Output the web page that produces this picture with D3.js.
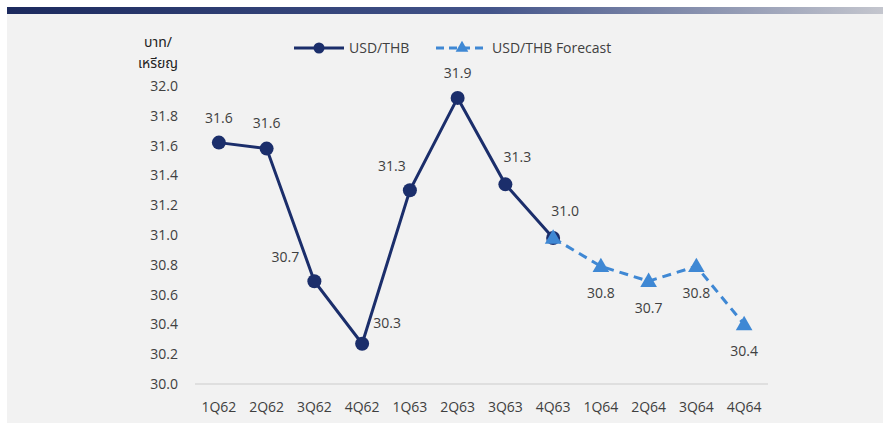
<!DOCTYPE html>
<html><head><meta charset="utf-8">
<script src="https://cdn.jsdelivr.net/npm/d3@7"></script>
<style>
body{margin:0;background:#fff;}
svg{display:block;font-family:"Open Sans","Liberation Sans",sans-serif;}
</style></head>
<body>
<svg id="c" width="883" height="423"></svg>
<script>
const categories = ["1Q62","2Q62","3Q62","4Q62","1Q63","2Q63","3Q63","4Q63","1Q64","2Q64","3Q64","4Q64"];
const actualValues = [31.62, 31.58, 30.69, 30.27, 31.30, 31.92, 31.34, 30.98, null, null, null, null];
const forecastValues = [null, null, null, null, null, null, null, 30.98, 30.79, 30.69, 30.79, 30.40];
const actualLabels = ["31.6","31.6","30.7","30.3","31.3","31.9","31.3","31.0"];
const actualLabelPos = ["above","above","left","right","aboveleft","above","aboveright","aboveright"];
const forecastLabels = [null,null,null,null,null,null,null,null,"30.8","30.7","30.8","30.4"];
const yTicks = [30.0,30.2,30.4,30.6,30.8,31.0,31.2,31.4,31.6,31.8,32.0];
const seriesNames = ["USD/THB","USD/THB Forecast"];
const yTitle = ["บาท/","เหรียญ"];

const svg = d3.select("#c");
const W = 883, H = 423;
const navy = "#1b2e6b", blue = "#3f88d4", txt = "#404040";

// background
svg.append("rect").attr("x",7).attr("y",7).attr("width",W-7).attr("height",H-7).attr("fill","#f2f2f2");
const grad = svg.append("defs").append("linearGradient").attr("id","g").attr("x1","0").attr("x2","1");
grad.append("stop").attr("offset","0").attr("stop-color","#1c2a5e");
grad.append("stop").attr("offset","0.55").attr("stop-color","#43548a");
grad.append("stop").attr("offset","1").attr("stop-color","#c4c6ce");
svg.append("rect").attr("x",7).attr("y",7).attr("width",W-7).attr("height",7).attr("fill","url(#g)");

const x = d3.scaleBand().domain(categories).range([195,768]);
const y = d3.scaleLinear().domain([30,32]).range([384,86]);
const cx = d => x(d) + x.bandwidth()/2;

// baseline
svg.append("line").attr("x1",195).attr("x2",768).attr("y1",y(30)).attr("y2",y(30))
  .attr("stroke","#d9d9d9").attr("stroke-width",1.5);

// y tick labels
svg.append("g").selectAll("text").data(yTicks).join("text")
  .attr("x",178).attr("y",d=>y(d)).attr("dy","0.35em").attr("text-anchor","end")
  .attr("font-size",14).attr("fill",txt).text(d=>d.toFixed(1));

// x labels
svg.append("g").selectAll("text").data(categories).join("text")
  .attr("x",d=>cx(d)).attr("y",407).attr("dy","0.35em").attr("text-anchor","middle")
  .attr("font-size",14).attr("fill",txt).text(d=>d);

// y title
svg.append("g").selectAll("text").data(yTitle).join("text")
  .attr("x",158).attr("y",(d,i)=>42+i*21).attr("dy","0.35em").attr("text-anchor","middle")
  .attr("font-size",14).attr("font-family","'Noto Sans Thai','Noto Sans','DejaVu Sans',sans-serif")
  .attr("fill","#222").text(d=>d);

const line = d3.line().defined(d=>d.v!=null).x(d=>cx(d.c)).y(d=>y(d.v));
const fData = categories.map((c,i)=>({c,v:forecastValues[i]}));
const aData = categories.map((c,i)=>({c,v:actualValues[i]}));

svg.append("path").datum(fData).attr("d",line).attr("fill","none").attr("stroke",blue)
  .attr("stroke-width",3).attr("stroke-dasharray","9,6");
svg.append("path").datum(aData).attr("d",line).attr("fill","none").attr("stroke",navy)
  .attr("stroke-width",3);

svg.append("g").selectAll("circle").data(aData.filter(d=>d.v!=null)).join("circle")
  .attr("cx",d=>cx(d.c)).attr("cy",d=>y(d.v)).attr("r",7).attr("fill",navy);

const tri = d3.symbol().type(d3.symbolTriangle).size(120);
svg.append("g").selectAll("path").data(fData.filter(d=>d.v!=null)).join("path")
  .attr("d",tri).attr("transform",d=>`translate(${cx(d.c)},${y(d.v)+1})`).attr("fill",blue);

// labels
const off = {above:[0,-25], left:[-29,-24], aboveleft:[-18,-24], aboveright:[12,-27], right:[25,-21], below:[0,27]};
svg.append("g").selectAll("text").data(actualLabels).join("text")
  .attr("x",(d,i)=>cx(categories[i])+off[actualLabelPos[i]][0])
  .attr("y",(d,i)=>y(actualValues[i])+off[actualLabelPos[i]][1])
  .attr("dy","0.35em").attr("text-anchor","middle").attr("font-size",14).attr("fill",txt).text(d=>d);
svg.append("g").selectAll("text").data(fData.map((d,i)=>({d,l:forecastLabels[i]})).filter(o=>o.l)).join("text")
  .attr("x",o=>cx(o.d.c)).attr("y",o=>y(o.d.v)+off.below[1])
  .attr("dy","0.35em").attr("text-anchor","middle").attr("font-size",14).attr("fill",txt).text(o=>o.l);

// legend
const lg = svg.append("g");
lg.append("line").attr("x1",294).attr("x2",344).attr("y1",48).attr("y2",48).attr("stroke",navy).attr("stroke-width",3);
lg.append("circle").attr("cx",319).attr("cy",48).attr("r",5.5).attr("fill",navy);
lg.append("text").attr("x",349).attr("y",48).attr("dy","0.35em").attr("font-size",14).attr("fill",txt).text(seriesNames[0]);
lg.append("line").attr("x1",436).attr("x2",488).attr("y1",48).attr("y2",48).attr("stroke",blue).attr("stroke-width",3).attr("stroke-dasharray","8,5");
lg.append("path").attr("d",d3.symbol().type(d3.symbolTriangle).size(70)).attr("transform","translate(462,48)").attr("fill",blue);
lg.append("text").attr("x",492).attr("y",48).attr("dy","0.35em").attr("font-size",14).attr("fill",txt).text(seriesNames[1]);
</script>
</body></html>
